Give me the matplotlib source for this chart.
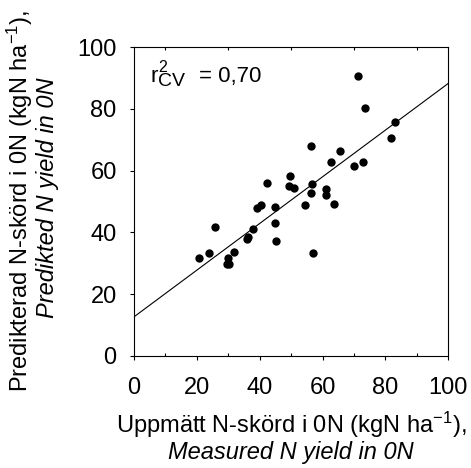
import numpy as np
import matplotlib
matplotlib.use("Agg")
import matplotlib.pyplot as plt
from matplotlib.ticker import MultipleLocator

plt.rcParams['font.family'] = ['Liberation Sans', 'DejaVu Sans']
plt.rcParams['mathtext.fontset'] = 'custom'
plt.rcParams['mathtext.rm'] = 'Liberation Sans'
plt.rcParams['mathtext.it'] = 'Liberation Sans:italic'

# measured vs predicted N yield in 0N (kgN/ha)
measured = [20.7, 23.9, 25.9, 29.5, 30.1, 30.0, 31.9, 35.9, 36.4, 37.8,
            39.2, 40.4, 42.2, 44.9, 45.0, 45.1, 49.6, 49.4, 51.0, 54.3,
            56.2, 56.6, 56.2, 57.0, 61.1, 61.1, 62.6, 63.6, 65.5, 70.0,
            71.4, 72.9, 73.6, 81.9, 83.0]
predicted = [31.7, 33.4, 41.7, 29.7, 29.7, 31.6, 33.7, 37.7, 38.6, 41.0,
             47.8, 49.0, 56.1, 43.1, 48.2, 37.1, 58.3, 55.1, 54.3, 48.9,
             68.0, 55.7, 52.9, 33.4, 54.1, 52.1, 62.9, 49.3, 66.3, 61.5,
             90.7, 62.8, 80.4, 70.7, 75.7]

# regression line
intercept = 12.6
slope = 0.757
r2_text = "0,70"

fig = plt.figure(figsize=(4.71, 4.68), dpi=100)
ax = fig.add_axes([0.2845, 0.2400, 0.6673, 0.6589])

ax.scatter(measured, predicted, s=36, color='black', zorder=3, linewidths=0)
xl = np.array([0, 100])
ax.plot(xl, intercept + slope * xl, color='black', linewidth=0.8)

ax.set_xlim(0, 100)
ax.set_ylim(0, 100)
ax.xaxis.set_major_locator(MultipleLocator(20))
ax.yaxis.set_major_locator(MultipleLocator(20))
ax.xaxis.set_minor_locator(MultipleLocator(10))

for sp in ax.spines.values():
    sp.set_linewidth(0.8)
    sp.set_color('black')

ax.tick_params(axis='x', which='major', direction='out', length=3, width=0.8,
               top=False, labelsize=17, pad=12)
ax.tick_params(axis='x', which='minor', direction='in', length=2.5, width=0.8,
               top=True, bottom=True)
ax.tick_params(axis='y', which='major', direction='out', length=3, width=0.8,
               right=False, labelsize=17, pad=9.5)

# r2 label built from pieces so sub/superscript sizes match the original
anchor = (5.1, 88.7)
ax.annotate("r", anchor, fontsize=16, ha='left', va='baseline')
ax.annotate("2", anchor, xytext=(5.8, 7.5), textcoords='offset points',
            fontsize=11.5, ha='left', va='baseline')
ax.annotate("CV", anchor, xytext=(5.8, -3), textcoords='offset points',
            fontsize=14, ha='left', va='baseline')
ax.annotate("= " + r2_text, anchor, xytext=(35, 0), textcoords='offset points',
            fontsize=16, ha='left', va='baseline')

cx = 291 / 471
fig.text(cx, 1 - 433 / 468, r"Uppmätt N-skörd i 0N (kgN ha$^{-1}$),",
         fontsize=17, ha='center', va='baseline')
fig.text(cx, 1 - 459 / 468, "Measured N yield in 0N", fontsize=17,
         style='italic', ha='center', va='baseline')
fig.text(35 / 471, 1 - 201 / 468, r"Predikterad N-skörd i 0N (kgN ha$^{-1}$),",
         fontsize=17, rotation=90, ha='right', va='center')
fig.text(59 / 471, 1 - 198 / 468, "Predikted N yield in 0N", fontsize=17,
         style='italic', rotation=90, ha='right', va='center')

fig.savefig("out.png", dpi=100)
